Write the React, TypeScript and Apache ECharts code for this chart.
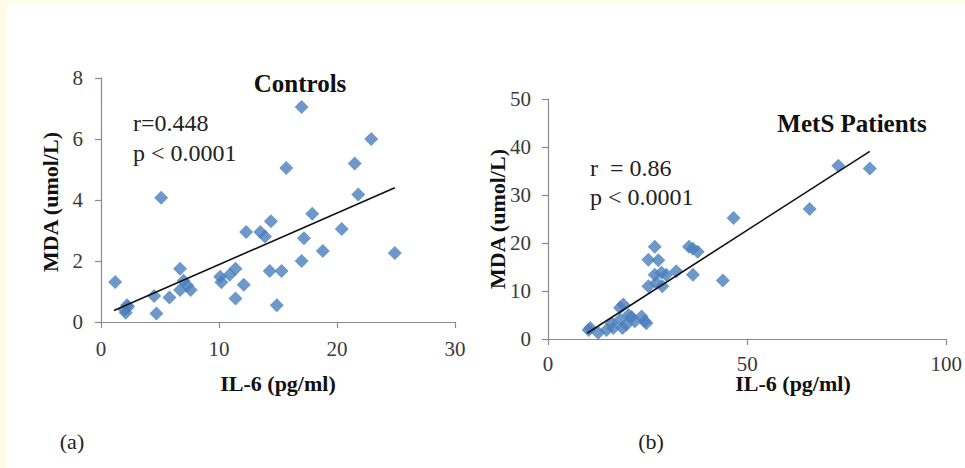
import React, { useEffect, useRef } from "react";
import * as echarts from "echarts";

// Panel (a): Controls
const controlsIL6 = [1.2, 2.2, 2.1, 2.0, 2.3, 4.5, 4.7, 5.1, 5.8, 6.7, 6.7, 7.0, 7.3, 7.6, 10.1, 10.2, 10.9, 11.4, 11.4, 12.1, 12.3, 13.5, 13.9, 14.4, 14.3, 15.3, 14.9, 15.7, 17.0, 17.0, 17.2, 17.9, 18.8, 20.4, 21.5, 21.8, 22.9, 24.9];
const controlsMDA = [1.31, 0.55, 0.3, 0.4, 0.5, 0.85, 0.28, 4.07, 0.8, 1.75, 1.05, 1.35, 1.2, 1.05, 1.48, 1.3, 1.55, 1.75, 0.77, 1.22, 2.95, 2.95, 2.8, 3.3, 1.67, 1.67, 0.55, 5.05, 7.05, 2.0, 2.75, 3.55, 2.33, 3.05, 5.2, 4.18, 6.0, 2.26];
const controlsTrendX = [1.1, 24.9];
const controlsTrendY = [0.38, 4.4];

// Panel (b): MetS patients
const metsIL6 = [10.2, 10.6, 12.6, 14.7, 16.0, 16.4, 18.1, 18.9, 18.1, 18.7, 19.7, 20.2, 21.0, 21.8, 23.5, 24.3, 24.7, 25.2, 25.2, 26.8, 27.7, 26.8, 27.2, 28.5, 28.7, 29.7, 32.2, 35.4, 36.4, 36.4, 37.6, 43.9, 46.6, 65.7, 72.9, 80.8];
const metsMDA = [1.9, 2.3, 1.3, 1.9, 3.3, 2.3, 6.5, 7.2, 4.0, 2.3, 3.0, 5.0, 4.6, 3.7, 4.7, 3.7, 3.3, 11.0, 16.5, 19.2, 16.4, 13.4, 11.7, 13.8, 11.0, 13.4, 14.1, 19.2, 13.4, 18.8, 18.2, 12.2, 25.2, 27.1, 36.1, 35.5];
const metsTrendX = [9.8, 80.8];
const metsTrendY = [1.2, 39.1];

// Axis ticks
const xTicksA = { min: 0, max: 30, interval: 10 };
const yTicksA = { min: 0, max: 8, interval: 2 };
const xTicksB = { min: 0, max: 100, interval: 50 };
const yTicksB = { min: 0, max: 50, interval: 10 };

const FONT = "'Liberation Serif', 'Times New Roman', serif";
const AXIS_COLOR = "#8a8a8a";
const MARK_COLOR = "#4A7EBB";

const pairs = (xs: number[], ys: number[]) => xs.map((x, i) => [x, ys[i]]);

function axisBase(t: { min: number; max: number; interval: number }, margin: number) {
  return {
    type: "value",
    min: t.min,
    max: t.max,
    interval: t.interval,
    splitLine: { show: false },
    axisLine: { show: true, lineStyle: { color: AXIS_COLOR, width: 1.2 } },
    axisTick: { show: true, inside: false, length: 6, lineStyle: { color: AXIS_COLOR, width: 1.2 } },
    axisLabel: { fontFamily: FONT, fontSize: 21, color: "#3a3a3a", margin },
  };
}

export default function App() {
  const ref = useRef<HTMLDivElement>(null);
  useEffect(() => {
    if (!ref.current) return;
    const chart = echarts.init(ref.current, null, { renderer: "svg" });
    const text = (x: number, y: number, t: string, opts: any = {}) => ({
      type: "text",
      x,
      y,
      rotation: opts.rotation || 0,
      z: 10,
      style: {
        text: t,
        fontFamily: FONT,
        fontSize: opts.fontSize || 23,
        fontWeight: opts.bold ? "bold" : "normal",
        fill: opts.color || "#111",
        align: opts.align || "center",
        verticalAlign: "middle",
        lineHeight: opts.lineHeight,
      },
    });
    chart.setOption({
      animation: false,
      backgroundColor: "#fffbe6",
      graphic: [
        { type: "rect", z: -10, shape: { x: 7, y: 3, width: 965, height: 470 }, style: { fill: "#ffffff" } },
        text(300, 83, "Controls", { bold: true, fontSize: 25 }),
        text(133, 123, "r=0.448", { fontSize: 24, align: "left", color: "#222" }),
        text(133, 153, "p < 0.0001", { fontSize: 24, align: "left", color: "#222" }),
        text(278, 383, "IL-6 (pg/ml)", { bold: true, fontSize: 22 }),
        text(50, 202, "MDA (umol/L)", { bold: true, fontSize: 22, rotation: Math.PI / 2 }),
        text(72, 441, "(a)", { fontSize: 22, color: "#222" }),
        text(852, 123, "MetS Patients", { bold: true, fontSize: 25 }),
        text(590, 168, "r  = 0.86", { fontSize: 24, align: "left", color: "#222" }),
        text(590, 197, "p < 0.0001", { fontSize: 24, align: "left", color: "#222" }),
        text(793, 383, "IL-6 (pg/ml)", { bold: true, fontSize: 22 }),
        text(497, 219, "MDA (umol/L)", { bold: true, fontSize: 22, rotation: Math.PI / 2 }),
        text(651, 441, "(b)", { fontSize: 22, color: "#222" }),
      ],
      grid: [
        { left: 101, top: 78, width: 354, height: 244 },
        { left: 548, top: 99, width: 399, height: 240 },
      ],
      xAxis: [
        { ...axisBase(xTicksA, 16), gridIndex: 0 },
        { ...axisBase(xTicksB, 14), gridIndex: 1 },
      ],
      yAxis: [
        { ...axisBase(yTicksA, 18), gridIndex: 0 },
        { ...axisBase(yTicksB, 17), gridIndex: 1 },
      ],
      series: [
        {
          type: "scatter",
          xAxisIndex: 0,
          yAxisIndex: 0,
          symbol: "diamond",
          symbolSize: 14,
          itemStyle: { color: MARK_COLOR },
          data: pairs(controlsIL6, controlsMDA),
        },
        {
          type: "line",
          xAxisIndex: 0,
          yAxisIndex: 0,
          symbol: "none",
          lineStyle: { color: "#111", width: 1.6 },
          data: pairs(controlsTrendX, controlsTrendY),
          z: 5,
        },
        {
          type: "scatter",
          xAxisIndex: 1,
          yAxisIndex: 1,
          symbol: "diamond",
          symbolSize: 14,
          itemStyle: { color: MARK_COLOR },
          data: pairs(metsIL6, metsMDA),
        },
        {
          type: "line",
          xAxisIndex: 1,
          yAxisIndex: 1,
          symbol: "none",
          lineStyle: { color: "#111", width: 1.6 },
          data: pairs(metsTrendX, metsTrendY),
          z: 5,
        },
      ],
    });
    return () => chart.dispose();
  }, []);
  return (
    <div
      ref={ref}
      style={{ position: "fixed", left: 0, top: 0, width: 965, height: 468 }}
    />
  );
}
